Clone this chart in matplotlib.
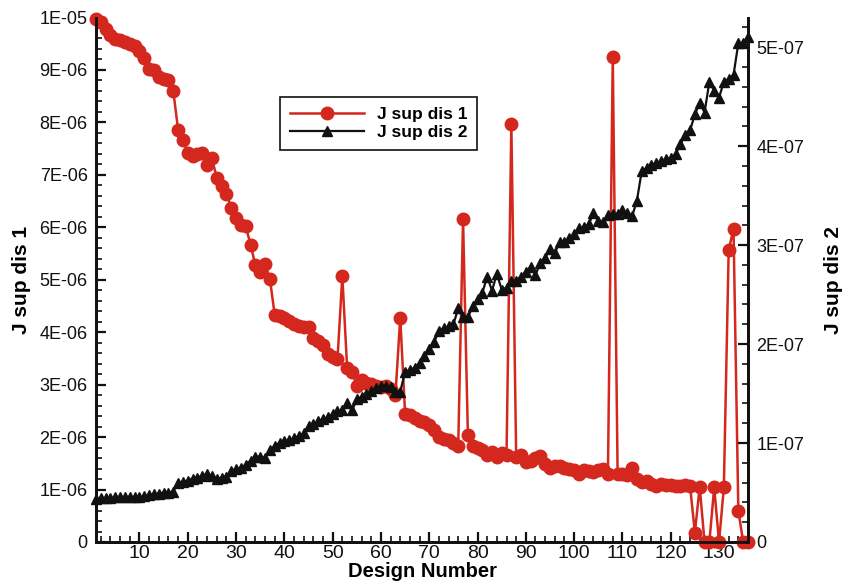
import matplotlib
matplotlib.use("Agg")
import matplotlib.pyplot as plt
from matplotlib.ticker import FixedLocator, MultipleLocator, FixedFormatter
import numpy as np

plt.rcParams['font.family'] = ['Liberation Sans', 'DejaVu Sans']

# Design numbers
design = np.arange(1, 137)

# J sup dis 1 (units of 1E-06)
j_sup_dis_1 = [
    9.97, 9.92, 9.79, 9.67, 9.59, 9.57, 9.53, 9.50, 9.46, 9.36,
    9.23, 9.02, 9.00, 8.86, 8.83, 8.81, 8.60, 7.86, 7.66, 7.41,
    7.36, 7.40, 7.41, 7.19, 7.32, 6.94, 6.79, 6.64, 6.37, 6.17,
    6.05, 6.02, 5.67, 5.28, 5.15, 5.30, 5.02, 4.33, 4.31, 4.28,
    4.21, 4.15, 4.11, 4.10, 4.10, 3.88, 3.83, 3.75, 3.58, 3.53,
    3.48, 5.07, 3.32, 3.24, 2.98, 3.08, 3.03, 3.01, 2.98, 2.96,
    2.98, 2.92, 2.81, 4.28, 2.44, 2.43, 2.37, 2.30, 2.28, 2.24,
    2.14, 2.01, 1.96, 1.94, 1.89, 1.83, 6.15, 2.04, 1.83, 1.79,
    1.75, 1.65, 1.71, 1.63, 1.69, 1.65, 7.96, 1.62, 1.65, 1.52,
    1.54, 1.61, 1.64, 1.49, 1.42, 1.44, 1.44, 1.42, 1.40, 1.37,
    1.30, 1.38, 1.36, 1.34, 1.38, 1.40, 1.30, 9.25, 1.30, 1.30,
    1.27, 1.42, 1.20, 1.14, 1.16, 1.10, 1.07, 1.10, 1.09, 1.09,
    1.07, 1.07, 1.09, 1.07, 0.18, 1.05, 0.00, 0.00, 1.04, 0.00,
    1.04, 5.57, 5.97, 0.60, 0.00, 0.00,
]

# J sup dis 2 (units of 1E-07)
j_sup_dis_2 = [
    0.43, 0.44, 0.44, 0.44, 0.45, 0.45, 0.45, 0.45, 0.45, 0.45,
    0.46, 0.47, 0.48, 0.49, 0.50, 0.50, 0.51, 0.60, 0.61, 0.62,
    0.64, 0.65, 0.67, 0.69, 0.67, 0.64, 0.65, 0.66, 0.72, 0.74,
    0.75, 0.78, 0.82, 0.86, 0.86, 0.85, 0.93, 0.97, 1.00, 1.02,
    1.03, 1.05, 1.07, 1.10, 1.17, 1.19, 1.22, 1.24, 1.26, 1.29,
    1.32, 1.33, 1.40, 1.33, 1.44, 1.47, 1.50, 1.53, 1.56, 1.58,
    1.58, 1.57, 1.52, 1.52, 1.72, 1.74, 1.76, 1.81, 1.88, 1.95,
    2.02, 2.13, 2.16, 2.18, 2.20, 2.36, 2.27, 2.27, 2.38, 2.46,
    2.52, 2.68, 2.54, 2.71, 2.55, 2.57, 2.64, 2.64, 2.68, 2.73,
    2.78, 2.70, 2.82, 2.87, 2.96, 2.92, 3.03, 3.03, 3.07, 3.11,
    3.17, 3.18, 3.21, 3.32, 3.24, 3.23, 3.30, 3.31, 3.31, 3.35,
    3.32, 3.29, 3.45, 3.75, 3.78, 3.81, 3.83, 3.85, 3.87, 3.88,
    3.92, 4.02, 4.11, 4.16, 4.32, 4.44, 4.34, 4.65, 4.56, 4.49,
    4.65, 4.68, 4.72, 5.04, 5.04, 5.10,
]

x_ticks = [10, 20, 30, 40, 50, 60, 70, 80, 90, 100, 110, 120, 130]
left_tick_labels = ["0", "1E-06", "2E-06", "3E-06", "4E-06", "5E-06",
                    "6E-06", "7E-06", "8E-06", "9E-06", "1E-05"]
right_tick_labels = ["0", "1E-07", "2E-07", "3E-07", "4E-07", "5E-07"]

dis1 = np.array(j_sup_dis_1) * 1e-6
dis2 = np.array(j_sup_dis_2) * 1e-7

RED = "#d4271d"
BLACK = "#111111"

fig = plt.figure(figsize=(8.51, 5.86), dpi=100)
ax = fig.add_axes([96 / 851, 1 - 542 / 586, (748 - 96) / 851, (542 - 17.5) / 586])
ax2 = ax.twinx()

l1, = ax.plot(design, dis1, color=RED, lw=1.8, marker="o", ms=9,
              mec=RED, mfc=RED, clip_on=False, zorder=3, label="J sup dis 1")
l2, = ax2.plot(design, dis2, color=BLACK, lw=1.6, marker="^", ms=7.5,
               mec=BLACK, mfc=BLACK, clip_on=False, zorder=3, label="J sup dis 2")

ax.set_xlim(1, 136)
ax.set_ylim(0, 1e-5)
ax2.set_ylim(0, 5.3e-7)

# spines
for a in (ax, ax2):
    a.spines["top"].set_visible(False)
    for s in ("left", "right", "bottom"):
        a.spines[s].set_linewidth(2.0)
        a.spines[s].set_color(BLACK)

# x axis ticks
ax.xaxis.set_major_locator(FixedLocator(x_ticks))
ax.xaxis.set_major_formatter(FixedFormatter([str(t) for t in x_ticks]))
ax.xaxis.set_minor_locator(MultipleLocator(2))

# left axis ticks
left_vals = [i * 1e-6 for i in range(len(left_tick_labels))]
ax.yaxis.set_major_locator(FixedLocator(left_vals))
ax.yaxis.set_major_formatter(FixedFormatter(left_tick_labels))
ax.yaxis.set_minor_locator(MultipleLocator(2e-7))

# right axis ticks
right_vals = [i * 1e-7 for i in range(len(right_tick_labels))]
ax2.yaxis.set_major_locator(FixedLocator(right_vals))
ax2.yaxis.set_major_formatter(FixedFormatter(right_tick_labels))
ax2.yaxis.set_minor_locator(MultipleLocator(2e-8))

ax.tick_params(axis="y", which="major", direction="in", length=7, width=1.6,
               labelsize=13, pad=6, colors=BLACK, right=False)
ax.tick_params(axis="x", which="major", direction="in", length=7, width=1.6,
               labelsize=14, pad=2, colors=BLACK, top=False)
ax.tick_params(axis="both", which="minor", direction="in", length=4, width=1.2,
               top=False, right=False, colors=BLACK)
ax2.tick_params(axis="y", which="major", direction="in", length=7, width=1.6,
                labelsize=13, pad=6, colors=BLACK)
ax2.tick_params(axis="y", which="minor", direction="in", length=4, width=1.2,
                colors=BLACK)

ax.set_xlabel("Design Number", fontsize=14.5, fontweight="bold", labelpad=0)
ax.set_ylabel("J sup dis 1", fontsize=15, fontweight="bold", labelpad=6)
ax2.set_ylabel("J sup dis 2", fontsize=15, fontweight="bold", labelpad=14,
               rotation=90)

leg = fig.legend(handles=[l1, l2], loc="upper left",
                 bbox_to_anchor=(280 / 851, 1 - 97 / 586),
                 borderaxespad=0, fancybox=False, framealpha=1,
                 edgecolor=BLACK, handlelength=4.3, handletextpad=0.75,
                 labelspacing=0.2, borderpad=0.55,
                 prop={"weight": "bold", "size": 12.5})
leg.get_frame().set_linewidth(1.2)

fig.savefig("out.png", dpi=100)
